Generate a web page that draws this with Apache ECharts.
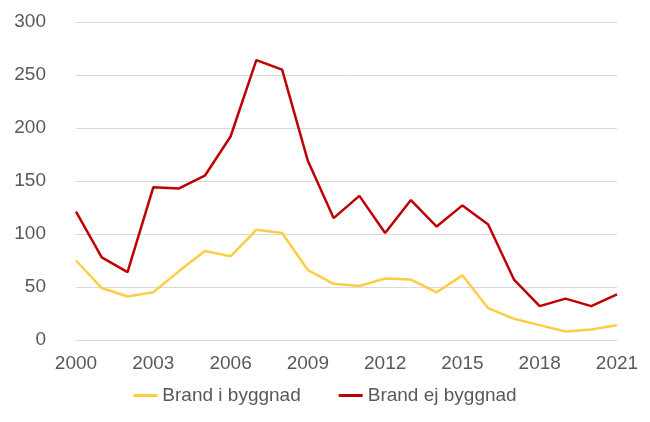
<!DOCTYPE html>
<html><head><meta charset="utf-8">
<script src="https://cdn.jsdelivr.net/npm/echarts@6/dist/echarts.min.js"></script>
<style>html,body{margin:0;padding:0;background:#fff}#c{width:650px;height:422px}</style>
</head><body><div id="c"></div>
<script>
const years = ["2000","2001","2002","2003","2004","2005","2006","2007","2008","2009","2010","2011","2012","2013","2014","2015","2016","2017","2018","2019","2020","2021"];
const brandIByggnad = [75,49,41,45,65,84,79,104,101,66,53,51,58,57,45,61,30,20,14,8,10,14];
const brandEjByggnad = [121,78,64,144,143,155,192,264,255,169,115,136,101,132,107,127,109,57,32,39,32,43];
const chart = echarts.init(document.getElementById('c'));
chart.setOption({
  animation:false,
  grid:{left:76,right:33,top:22,bottom:82},
  legend:{bottom:12,itemGap:38,icon:'rect',itemWidth:24,itemHeight:3,
    textStyle:{fontFamily:'Liberation Sans',fontSize:19,color:'#595959'}},
  xAxis:{type:'category',data:years,boundaryGap:false,
    axisLine:{lineStyle:{color:'#d9d9d9'}},axisTick:{show:false},
    axisLabel:{interval:2,margin:14,fontFamily:'Liberation Sans',fontSize:19,color:'#595959'}},
  yAxis:{type:'value',min:0,max:300,interval:50,
    splitLine:{lineStyle:{color:'#d9d9d9'}},
    axisLabel:{margin:30,fontFamily:'Liberation Sans',fontSize:19,color:'#595959'}},
  series:[
    {name:'Brand i byggnad',type:'line',data:brandIByggnad,symbol:'none',lineStyle:{width:2.5,color:'#ffcc44'},itemStyle:{color:'#ffcc44'}},
    {name:'Brand ej byggnad',type:'line',data:brandEjByggnad,symbol:'none',lineStyle:{width:2.5,color:'#c00000'},itemStyle:{color:'#c00000'}}
  ]
});
</script></body></html>
